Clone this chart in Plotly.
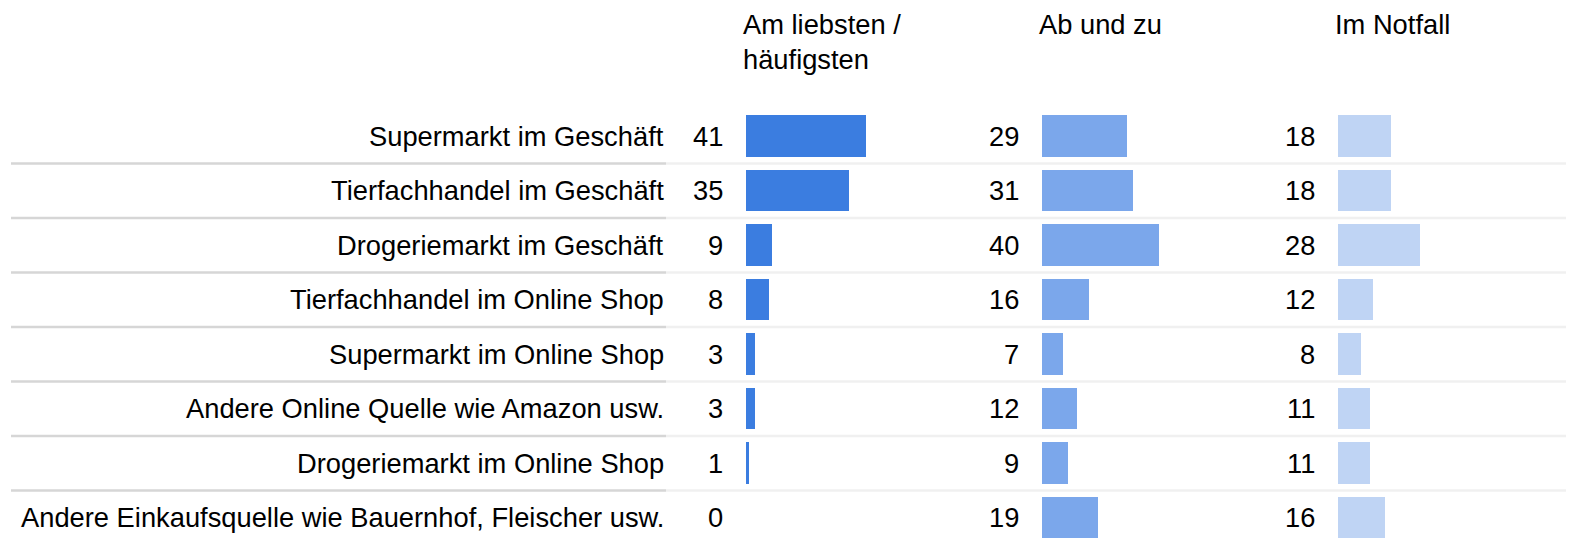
import plotly.graph_objects as go

categories = [
    "Supermarkt im Geschäft",
    "Tierfachhandel im Geschäft",
    "Drogeriemarkt im Geschäft",
    "Tierfachhandel im Online Shop",
    "Supermarkt im Online Shop",
    "Andere Online Quelle wie Amazon usw.",
    "Drogeriemarkt im Online Shop",
    "Andere Einkaufsquelle wie Bauernhof, Fleischer usw.",
]
headers = ["Am liebsten /<br>häufigsten", "Ab und zu", "Im Notfall"]
am_liebsten = [41, 35, 9, 8, 3, 3, 1, 0]
ab_und_zu = [29, 31, 40, 16, 7, 12, 9, 19]
im_notfall = [18, 18, 28, 12, 8, 11, 11, 16]

series = [am_liebsten, ab_und_zu, im_notfall]
colors = ["#3b7de0", "#7ba7eb", "#bfd4f4"]

# the page body has an 8px default margin; work in screen pixels and convert
OFF = 8
SW, SH = 1574, 544
W, H = SW - OFF, SH - OFF
PX_PER_UNIT = 2.93
col_start_px = [746, 1042, 1338]   # screen x
col_width_px = 200
row_center0 = 136                  # screen y
row_step = 54.5


def fx(px):
    return (px - OFF) / W


rows = list(range(len(categories)))
c0 = row_center0 - OFF
ytop = -c0 / row_step
ybot = (H - c0) / row_step

FONT = "Liberation Sans, Arial, sans-serif"
FS = 27.3

fig = go.Figure()
annotations = []
shapes = []

for k, (vals, col) in enumerate(zip(series, colors)):
    ax = "x" if k == 0 else f"x{k+1}"
    fig.add_trace(go.Bar(
        x=vals, y=rows, orientation="h", width=0.77,
        marker=dict(color=col, line=dict(width=0)),
        xaxis=ax, yaxis="y", showlegend=False, hoverinfo="skip",
    ))
    for r, v in zip(rows, vals):
        annotations.append(dict(
            x=0, y=r, xref=ax, yref="y", text=str(v), showarrow=False,
            xanchor="right", yanchor="middle", xshift=-21,
            font=dict(family=FONT, size=FS, color="black"),
        ))
    annotations.append(dict(
        x=fx(col_start_px[k] - 4), y=1, xref="paper", yref="paper", borderpad=0,
        text=headers[k], showarrow=False, xanchor="left", yanchor="top", align="left",
        font=dict(family=FONT, size=FS, color="black"),
    ))

for r, c in zip(rows, categories):
    annotations.append(dict(
        x=fx(666), y=r, xref="paper", yref="y", text=c, showarrow=False,
        xanchor="right", yanchor="middle",
        font=dict(family=FONT, size=FS, color="black"),
    ))

for r in rows[:-1]:
    yy = r + 0.505
    shapes.append(dict(type="line", xref="paper", yref="y", x0=fx(11), x1=fx(666),
                       y0=yy, y1=yy, line=dict(color="#d6d6d6", width=2.5), layer="below"))
    shapes.append(dict(type="line", xref="paper", yref="y", x0=fx(666), x1=1,
                       y0=yy, y1=yy, line=dict(color="#f0f0f0", width=2.5), layer="below"))

layout_axes = {}
for k in range(3):
    name = "xaxis" if k == 0 else f"xaxis{k+1}"
    layout_axes[name] = dict(
        domain=[fx(col_start_px[k]), fx(col_start_px[k] + col_width_px)],
        range=[0, col_width_px / PX_PER_UNIT], visible=False, anchor="y",
        fixedrange=True,
    )

fig.update_layout(
    width=W, height=H,
    margin=dict(l=0, r=0, t=0, b=0),
    paper_bgcolor="white", plot_bgcolor="white",
    yaxis=dict(range=[ybot, ytop], visible=False, domain=[0, 1], fixedrange=True),
    annotations=annotations, shapes=shapes,
    bargap=0, barmode="overlay",
    **layout_axes,
)

fig.write_html("out.html", config={"displayModeBar": False})
